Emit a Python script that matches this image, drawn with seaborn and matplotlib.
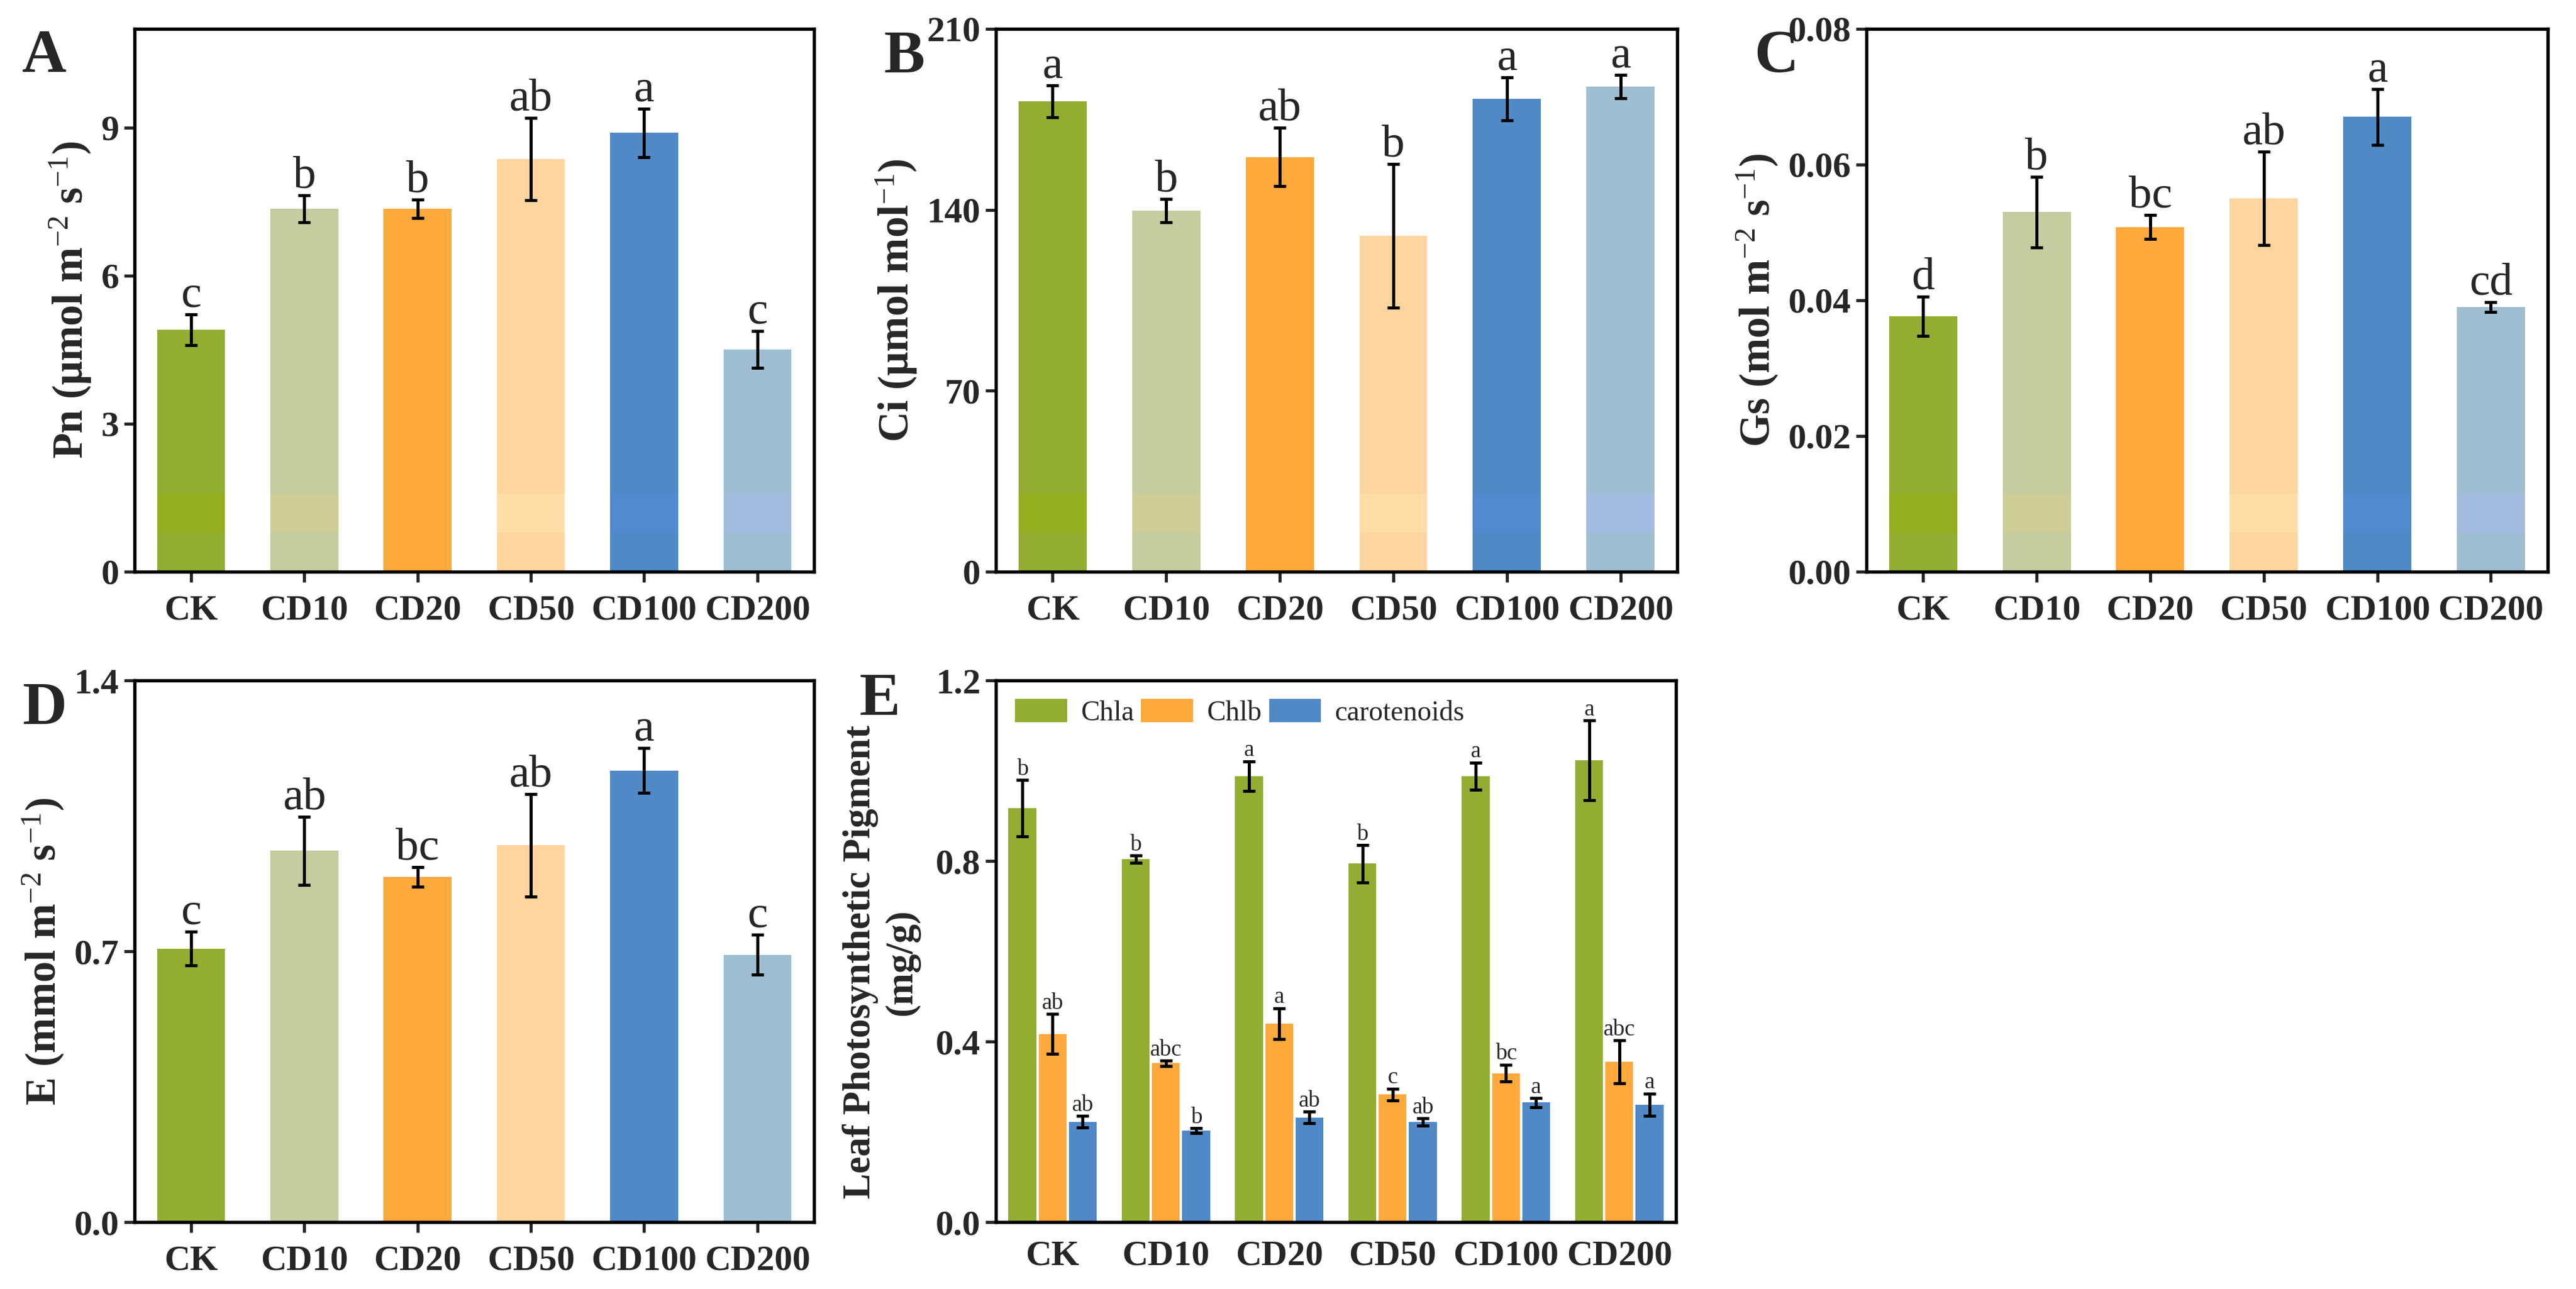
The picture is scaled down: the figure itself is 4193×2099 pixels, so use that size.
import numpy as np
import pandas as pd
import seaborn as sns
import matplotlib.pyplot as plt
from matplotlib.ticker import FormatStrFormatter

# treatments and colours
treatments = ['CK', 'CD10', 'CD20', 'CD50', 'CD100', 'CD200']
bar_colors = ['#93AD32', '#C4CCA0', '#FEA93B', '#FED59E', '#5089C6', '#9FBED2']
band_colors = ['#95AE1F', '#CFCE97', '#FEA93B', '#FEDDA7', '#5389CF', '#A4BBE0']

# A - net photosynthetic rate
pn = [4.90, 7.35, 7.35, 8.36, 8.89, 4.50]
pn_err = [0.31, 0.27, 0.19, 0.83, 0.49, 0.37]
pn_letters = ['c', 'b', 'b', 'ab', 'a', 'c']

# B - intercellular CO2
ci = [182.0, 139.7, 160.4, 130.0, 182.9, 187.7]
ci_err = [6.2, 4.5, 11.2, 27.8, 8.4, 4.5]
ci_letters = ['a', 'b', 'ab', 'b', 'a', 'a']

# C - stomatal conductance
gs = [0.0376, 0.0530, 0.0508, 0.0550, 0.0670, 0.0390]
gs_err = [0.0029, 0.0052, 0.0018, 0.0069, 0.0041, 0.0007]
gs_letters = ['d', 'b', 'bc', 'ab', 'a', 'cd']

# D - transpiration
e_rate = [0.707, 0.960, 0.892, 0.974, 1.167, 0.691]
e_err = [0.044, 0.088, 0.025, 0.132, 0.058, 0.052]
e_letters = ['c', 'ab', 'bc', 'ab', 'a', 'c']

# E - pigments
pigments = ['Chla', 'Chlb', 'carotenoids']
pigment_colors = ['#93AD32', '#FEA93B', '#5089C6']
chla = [0.917, 0.804, 0.988, 0.794, 0.988, 1.023]
chla_err = [0.062, 0.008, 0.033, 0.041, 0.030, 0.088]
chla_letters = ['b', 'b', 'a', 'b', 'a', 'a']
chlb = [0.417, 0.352, 0.440, 0.283, 0.330, 0.355]
chlb_err = [0.044, 0.006, 0.034, 0.013, 0.019, 0.048]
chlb_letters = ['ab', 'abc', 'a', 'c', 'bc', 'abc']
car = [0.222, 0.203, 0.232, 0.222, 0.265, 0.260]
car_err = [0.013, 0.005, 0.013, 0.008, 0.010, 0.025]
car_letters = ['ab', 'b', 'ab', 'ab', 'a', 'a']

sns.set_style('ticks')
plt.rcParams['font.family'] = ['Liberation Serif', 'DejaVu Serif']
plt.rcParams['mathtext.fontset'] = 'custom'
plt.rcParams['mathtext.rm'] = 'Liberation Serif'
plt.rcParams['mathtext.it'] = 'Liberation Serif:italic'
plt.rcParams['mathtext.bf'] = 'Liberation Serif:bold'
plt.rcParams['axes.linewidth'] = 1.3

fig = plt.figure(figsize=(4193 / 300, 2099 / 300), dpi=300)


def style_axes(ax, ylim, yticks, fmt, xticks_on=True):
    ax.set_ylim(0, ylim)
    ax.set_xlim(-0.5, 5.5)
    ax.set_yticks(yticks)
    ax.yaxis.set_major_formatter(FormatStrFormatter(fmt))
    for s in ax.spines.values():
        s.set_visible(True)
        s.set_linewidth(1.3)
        s.set_color('black')
    ax.tick_params(axis='y', direction='out', length=4, width=1.2, pad=2,
                   labelsize=14)
    ax.tick_params(axis='x', direction='out', length=4 if xticks_on else 0,
                   width=1.2, pad=5 if xticks_on else 7, labelsize=14)
    for lab in ax.get_xticklabels() + ax.get_yticklabels():
        lab.set_fontweight('bold')
    ax.set_xlabel('')


def single_panel(rect, values, errs, letters, ylim, yticks, fmt, ylabel, tag, band=True):
    ax = fig.add_axes(rect)
    sns.barplot(x=treatments, y=values, hue=treatments, palette=bar_colors,
                width=0.6, saturation=1, legend=False, linewidth=0, ax=ax)
    if band:
        # tinted strip near the base of each bar (as in the source figure)
        ax.bar(range(len(treatments)), 0.072, bottom=0.072, width=0.6,
               color=band_colors, linewidth=0, transform=ax.get_xaxis_transform(),
               zorder=2)
    ax.errorbar(range(len(treatments)), values, yerr=errs, fmt='none',
                ecolor='black', elinewidth=1.2, capsize=2.4, capthick=1.2, zorder=3)
    for i, (v, e, t) in enumerate(zip(values, errs, letters)):
        ax.annotate(t, (i, v + e), xytext=(0, 3), textcoords='offset points',
                    ha='center', va='baseline', fontsize=18)
    style_axes(ax, ylim, yticks, fmt)
    ax.set_ylabel(ylabel, fontsize=16.5, fontweight='bold', labelpad=3)
    fig.text(rect[0] - 0.0436, rect[1] + rect[3] - 0.0333, tag, fontsize=24,
             fontweight='bold', va='baseline', ha='left')
    return ax


top_y, top_h = 0.5565, 0.4212
bot_y, bot_h = 0.0519, 0.4202

single_panel([0.0522, top_y, 0.2638, top_h], pn, pn_err, pn_letters, 11, [0, 3, 6, 9],
             '%d', 'Pn (μmol m$^{-2}$ s$^{-1}$)', 'A')
single_panel([0.3866, top_y, 0.2645, top_h], ci, ci_err, ci_letters, 210, [0, 70, 140, 210],
             '%d', 'Ci (μmol mol$^{-1}$)', 'B')
single_panel([0.7245, top_y, 0.2645, top_h], gs, gs_err, gs_letters, 0.08,
             [0, 0.02, 0.04, 0.06, 0.08], '%.2f', 'Gs (mol m$^{-2}$ s$^{-1}$)', 'C')
single_panel([0.0522, bot_y, 0.2638, bot_h], e_rate, e_err, e_letters, 1.4, [0, 0.7, 1.4],
             '%.1f', 'E (mmol m$^{-2}$ s$^{-1}$)', 'D', band=False)

# E - grouped bars
pig_df = pd.DataFrame({
    'treatment': treatments * 3,
    'pigment': [p for p in pigments for _ in treatments],
    'value': chla + chlb + car,
})
pig_err = [chla_err, chlb_err, car_err]
pig_letters = [chla_letters, chlb_letters, car_letters]

axE = fig.add_axes([0.3866, bot_y, 0.264, bot_h])
sns.barplot(data=pig_df, x='treatment', y='value', hue='pigment', order=treatments,
            hue_order=pigments, palette=pigment_colors, width=0.8, gap=0.08,
            saturation=1, linewidth=0, ax=axE)
for cont, errs, letters in zip(axE.containers, pig_err, pig_letters):
    xs = [b.get_x() + b.get_width() / 2 for b in cont]
    hs = [b.get_height() for b in cont]
    axE.errorbar(xs, hs, yerr=errs, fmt='none', ecolor='black', elinewidth=1.2,
                 capsize=2.4, capthick=1.2, zorder=3)
    for x, h, e, t in zip(xs, hs, errs, letters):
        axE.annotate(t, (x, h + e), xytext=(0, 2), textcoords='offset points',
                     ha='center', va='baseline', fontsize=9)
style_axes(axE, 1.2, [0, 0.4, 0.8, 1.2], '%.1f', xticks_on=False)
axE.set_ylabel('Leaf Photosynthetic Pigment\n(mg/g)', fontsize=15, fontweight='bold')
axE.yaxis.set_label_coords(-0.112, 0.48)
axE.legend(loc='upper left', bbox_to_anchor=(0.028, 0.966), ncol=3, frameon=False,
           fontsize=11, handlelength=1.85, handleheight=0.9, handletextpad=0.48,
           columnspacing=0.26, borderpad=0, borderaxespad=0, title=None)
fig.text(0.3334, 1 - 1164 / 2099, 'E', fontsize=24, fontweight='bold',
         va='baseline', ha='left')

fig.savefig('out.png', dpi=300)
